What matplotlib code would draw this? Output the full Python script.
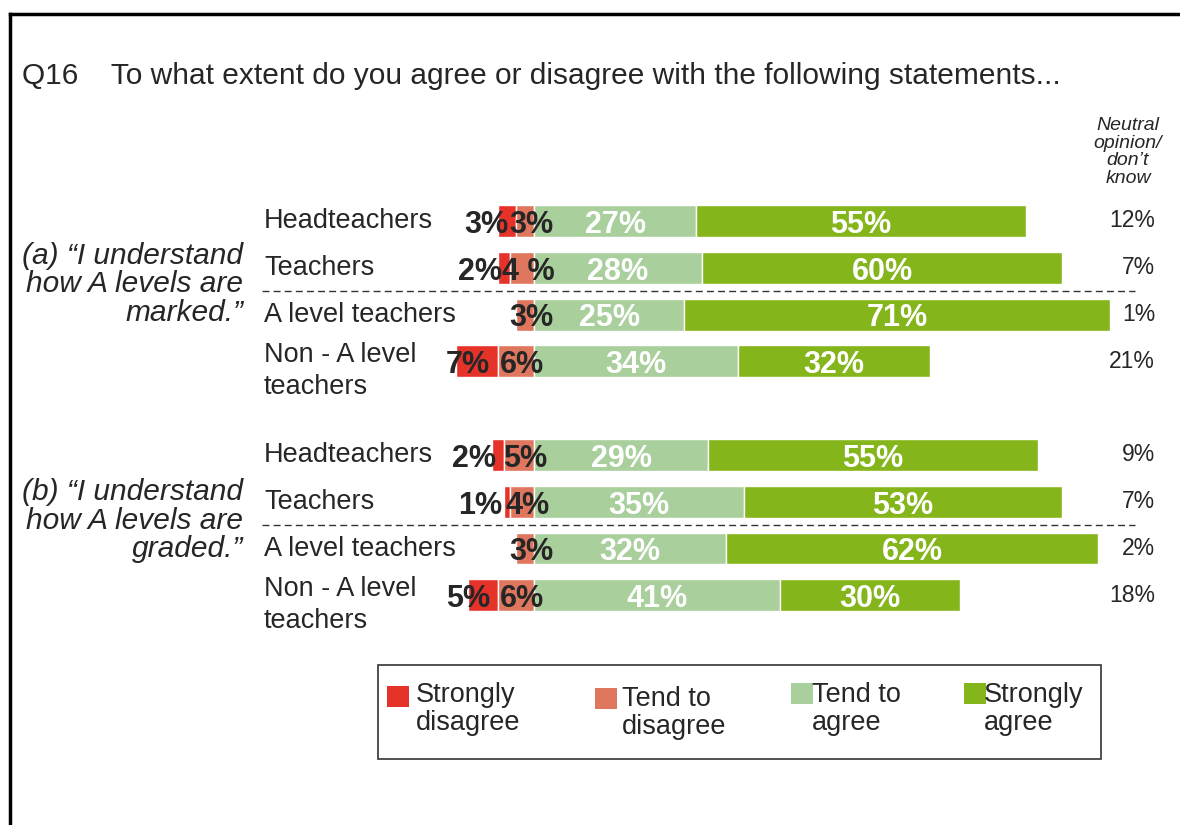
import matplotlib
matplotlib.use('Agg')
import matplotlib.pyplot as plt
import matplotlib.transforms as mtransforms
from matplotlib.patches import Rectangle
from matplotlib.lines import Line2D

plt.rcParams['font.family'] = ['Liberation Sans', 'DejaVu Sans']

# survey results, % of respondents (rows: a-statement then b-statement)
groups = ['(a) \u201cI understand\nhow A levels are\nmarked.\u201d',
          '(b) \u201cI understand\nhow A levels are\ngraded.\u201d']
respondents = ['Headteachers', 'Teachers', 'A level teachers', 'Non - A level\nteachers']
strongly_disagree = [3, 2, 0, 7, 2, 1, 0, 5]
tend_disagree = [3, 4, 3, 6, 5, 4, 3, 6]
tend_agree = [27, 28, 25, 34, 29, 35, 32, 41]
strongly_agree = [55, 60, 71, 32, 55, 53, 62, 30]
neutral = [12, 7, 1, 21, 9, 7, 2, 18]
categories = ['Strongly\ndisagree', 'Tend to\ndisagree', 'Tend to\nagree', 'Strongly\nagree']

colors = ['#E5332A', '#DF775F', '#A9CF9C', '#84B51A']
dark = '#262626'

W, H = 1180, 825
fig = plt.figure(figsize=(W / 100, H / 100), dpi=100)


def fx(x):
    return x / W


def fy(y):
    return 1 - y / H


y_pos = [0, 1, 2, 3, 5, 6, 7, 8]

ax = fig.add_axes([fx(414), fy(650), 720 / W, 500 / H])
ax.set_xlim(-20, 100)
ax.set_ylim(9.167, -1.517)
ax.axis('off')

bh = 0.68
sd_left = [-(a + b) for a, b in zip(strongly_disagree, tend_disagree)]
td_left = [-b for b in tend_disagree]
ax.barh(y_pos, strongly_disagree, left=sd_left, height=bh, color=colors[0], edgecolor='white', linewidth=1)
ax.barh(y_pos, tend_disagree, left=td_left, height=bh, color=colors[1], edgecolor='white', linewidth=1)
ax.barh(y_pos, tend_agree, left=0, height=bh, color=colors[2], edgecolor='white', linewidth=1)
ax.barh(y_pos, strongly_agree, left=tend_agree, height=bh, color=colors[3], edgecolor='white', linewidth=1)

td_labels = [f'{v}%' for v in tend_disagree]
td_labels[1] = '4 %'

lab_kw = dict(fontsize=22, fontweight='bold', va='center')
for i, y in enumerate(y_pos):
    ty = y + 0.08
    if strongly_disagree[i]:
        ax.text(-tend_disagree[i] - 1.3, ty, f'{strongly_disagree[i]}%', ha='right', color=dark, **lab_kw)
    ax.text(-tend_disagree[i] / 2 + 1.0, ty, td_labels[i], ha='center', color=dark, **lab_kw)
    ax.text(tend_agree[i] / 2, ty, f'{tend_agree[i]}%', ha='center', color='white', **lab_kw)
    ax.text(tend_agree[i] + strongly_agree[i] / 2, ty, f'{strongly_agree[i]}%', ha='center',
            color='white', **lab_kw)

# labels positioned horizontally in figure space, vertically on the rows
blend = mtransforms.blended_transform_factory(fig.transFigure, ax.transData)
for i, y in enumerate(y_pos):
    name = respondents[i % 4]
    dy = 0.2 if '\n' in name else 0
    ax.text(fx(264), y + dy, name, transform=blend, ha='left', va='center', fontsize=19.5,
            color=dark, linespacing=1.3)
    ax.text(fx(1155), y, f'{neutral[i]}%', transform=blend, ha='right', va='center',
            fontsize=16.5, color=dark)

for g, gy in zip(groups, [1.35, 6.4]):
    ax.text(fx(243), gy, g, transform=blend, ha='right', va='center', fontsize=21.5,
            style='italic', color=dark, linespacing=1.02)

for ly in [1.5, 6.5]:
    ax.add_line(Line2D([fx(262), fx(1135)], [ly, ly], transform=blend, color='#333333',
                       lw=1, linestyle=(0, (5, 3)), clip_on=False))

fig.text(fx(1128), fy(152), 'Neutral\nopinion/\ndon\u2019t\nknow', ha='center', va='center',
         fontsize=14, style='italic', color=dark, linespacing=1.05)

fig.text(fx(22), fy(76), 'Q16    To what extent do you agree or disagree with the following statements...',
         ha='left', va='center', fontsize=21.5, color=dark)

# legend box
fig.patches.append(Rectangle((fx(378), fy(759)), 723 / W, 94 / H, transform=fig.transFigure,
                             facecolor='white', edgecolor='#333333', lw=1.2))
leg_sq = [(387, 686), (595, 688), (791, 683), (964, 683)]
leg_tx = [(416, 709), (622, 713), (812, 709), (984, 709)]
for c, lab, (sx, sy), (tx, ty) in zip(colors, categories, leg_sq, leg_tx):
    fig.patches.append(Rectangle((fx(sx), fy(sy + 21)), 22 / W, 21 / H, transform=fig.transFigure,
                                 facecolor=c, edgecolor='none'))
    fig.text(fx(tx), fy(ty), lab, ha='left', va='center', fontsize=19.5, color=dark, linespacing=1.05)

# outer frame
fig.add_artist(Line2D([fx(10), 1], [fy(14), fy(14)], transform=fig.transFigure, color='black', lw=2.5))
fig.add_artist(Line2D([fx(10), fx(10)], [fy(14), 0], transform=fig.transFigure, color='black', lw=2.5))

fig.savefig('out.png', dpi=100, facecolor='white')
